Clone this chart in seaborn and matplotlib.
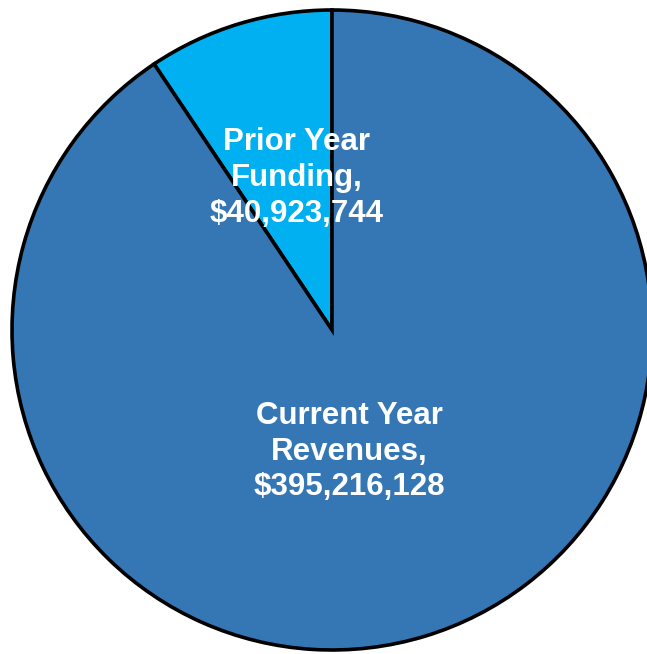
import matplotlib
matplotlib.use("Agg")
import matplotlib.pyplot as plt
import seaborn as sns

categories = ["Prior Year Funding", "Current Year Revenues"]
amounts = [40923744, 395216128]
colors = ["#00B0F0", "#3576B4"]

sns.set_style("white")
plt.rcParams["font.family"] = ["Liberation Sans", "DejaVu Sans"]

fig = plt.figure(figsize=(6.47, 6.54), dpi=100)
ax = fig.add_axes([0, 0, 1, 1])
ax.pie(amounts, colors=colors, startangle=90, counterclock=True, radius=1.0,
       wedgeprops=dict(edgecolor="black", linewidth=2.6))
ax.set_xlim(-332 / 320, 315 / 320)
ax.set_ylim(-324 / 320, 330 / 320)
ax.set_aspect("auto")
ax.axis("off")

label_pos = [(-0.11, 0.475), (0.053, -0.381)]
for name, val, (x, y) in zip(categories, amounts, label_pos):
    words = name.rsplit(" ", 1)
    txt = f"{words[0]}\n{words[1]},\n${val:,}"
    ax.text(x, y, txt, ha="center", va="center", color="white",
            fontsize=22.5, fontweight="bold", linespacing=1.24)

fig.savefig("out.png", dpi=100)
